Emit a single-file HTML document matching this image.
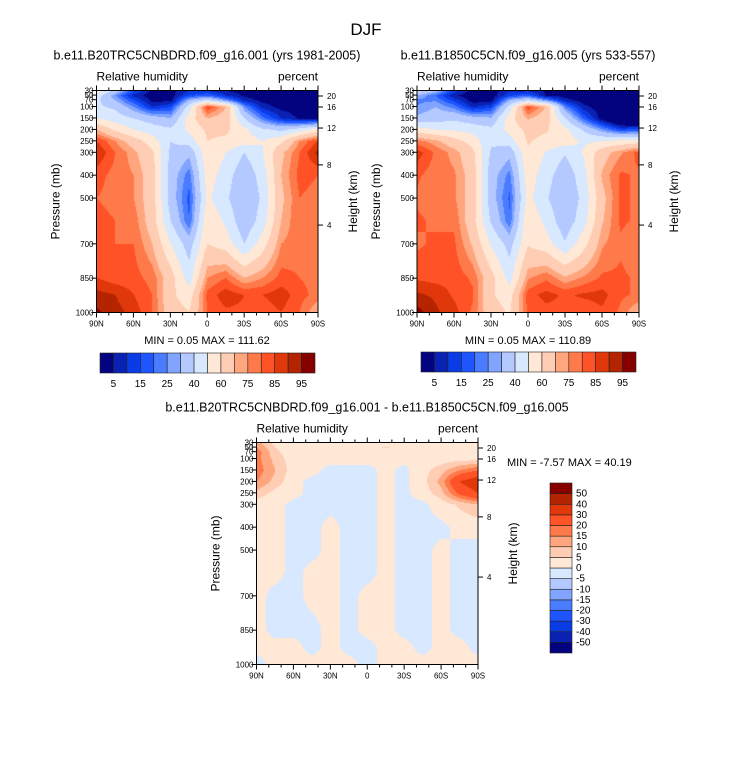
<!DOCTYPE html>
<html><head><meta charset="utf-8">
<style>
html,body{margin:0;padding:0;background:#fff;}
#wrap{position:relative;width:733px;height:758px;overflow:hidden;font-family:"Liberation Sans",sans-serif;}
canvas{position:absolute;}
svg{position:absolute;left:0;top:0;}
</style></head><body>
<div id="wrap">
<canvas id="c1" style="left:97px;top:91px" width="221" height="221"></canvas>
<canvas id="c2" style="left:417px;top:91px" width="222" height="221"></canvas>
<canvas id="c3" style="left:257px;top:443px" width="221" height="221"></canvas>
<svg id="s" width="733" height="758" font-family="Liberation Sans, sans-serif"></svg>
</div>
<script>
const lats = [90,75,60,45,30,15,0,-15,-30,-45,-60,-75,-90];
const pres = [30,50,70,100,150,200,250,300,400,500,600,700,850,925,1000];
const rh1 = [
[55,35,15,3,3,10,10,5,3,2,2,2,2],
[45,25,8,2,2,15,20,10,4,2,2,2,2],
[42,30,15,3,3,30,40,25,8,3,2,2,2],
[42,38,25,10,15,45,85,70,25,8,3,2,2],
[50,45,40,35,30,55,70,65,40,22,10,4,2],
[70,58,50,45,42,52,62,62,52,42,38,45,55],
[85,75,65,55,40,45,60,58,55,50,58,75,85],
[90,80,72,62,38,32,58,50,40,50,68,80,92],
[82,78,75,65,35,22,55,45,32,45,70,82,80],
[80,78,75,65,35,18,52,42,30,42,68,80,78],
[82,80,78,65,40,20,58,48,32,45,70,80,78],
[80,80,80,70,50,35,60,55,40,55,75,78,75],
[85,82,82,78,65,45,75,80,70,75,82,80,78],
[92,90,85,80,62,55,82,88,85,85,88,82,78],
[96,92,88,80,65,60,80,84,84,82,85,80,70]];
const diff = [
[12,3,2,1,1,1,1,1,1,1,1,1,1],
[15,5,2,1,1,1,1,6,1,1,1,1,1],
[18,6,2,1,1,1,1,1,1,1,1,1,1],
[17,8,2,1,1,1,1,1,1,1,2,3,3],
[18,10,2,1,-1,-1,-1,1,-1,3,8,15,20],
[15,8,1,-1,-1,-1,-1,1,-1,3,12,30,38],
[8,3,1,-1,-1,-1,-1,1,-1,2,8,22,30],
[2,1,-1,-1,-1,-1,-1,1,-1,-1,2,6,10],
[1,1,-1,-1,1,-1,-1,1,-1,-1,-1,1,1],
[1,1,-1,-1,1,-1,-1,1,-1,-1,1,-1,-1],
[1,1,-1,1,1,-1,-1,1,-1,-1,1,-1,-1],
[1,-1,-1,1,1,-1,1,1,-1,-1,1,-1,-1],
[1,-1,-1,-1,1,-1,1,1,-1,-1,1,-1,-1],
[1,1,1,-1,1,-1,-1,1,1,-1,1,1,-1],
[-1,1,1,1,1,1,-1,1,1,1,1,1,1]];
const rh2 = rh1.map((r,i)=>r.map((v,j)=>v-diff[i][j]));
const rhLevels = [5,10,15,20,25,30,40,50,60,70,75,80,85,90,95];
const rhLabels = ["5","15","25","40","60","75","85","95"];
const dLevels = [-50,-40,-30,-20,-15,-10,-5,0,5,10,15,20,30,40,50];
const colors = ["#03037f","#0a22b4","#0a3ce6","#1e55ff","#4a7cff","#80a4ff","#b4c9ff","#d8e8ff","#ffe8d6","#ffcdb4","#ffa67e","#ff7a4a","#ff5226","#e0380a","#b52400","#860000"];
const latTicks = ["90N","60N","30N","0","30S","60S","90S"];
const pTicks = [30,50,70,100,150,200,250,300,400,500,700,850,1000];
const hTicks = [[20,54],[16,102],[12,194],[8,355],[4,618]]; // [km, approx pressure]

function sample(grid,lat,p){
  let j=0; while(j<lats.length-2 && lat<lats[j+1]) j++;
  let tx=(lats[j]-lat)/(lats[j]-lats[j+1]);
  let i=0; while(i<pres.length-2 && p>pres[i+1]) i++;
  let ty=(p-pres[i])/(pres[i+1]-pres[i]);
  tx=Math.max(0,Math.min(1,tx)); ty=Math.max(0,Math.min(1,ty));
  const a=grid[i][j],b=grid[i][j+1],c=grid[i+1][j],d=grid[i+1][j+1];
  return (a*(1-tx)+b*tx)*(1-ty)+(c*(1-tx)+d*tx)*ty;
}
function lvl(v,levels){let k=0;while(k<levels.length&&v>=levels[k])k++;return k;}
function drawField(id,grid,levels){
  const cv=document.getElementById(id),ctx=cv.getContext('2d');
  const W=cv.width,H=cv.height;
  for(let y=0;y<H;y++){
    const p=30+(y+0.5)/H*970;
    let x0=0,prev=-1;
    for(let x=0;x<=W;x++){
      let k=-2;
      if(x<W){const lat=90-(x+0.5)/W*180;k=lvl(sample(grid,lat,p),levels);}
      if(k!==prev){ if(prev>=0){ctx.fillStyle=colors[prev];ctx.fillRect(x0,y,x-x0,1);} x0=x;prev=k;}
    }
  }
}
drawField('c1',rh1,rhLevels);
drawField('c2',rh2,rhLevels);
drawField('c3',diff,dLevels);

const S=document.getElementById('s');
const NS='http://www.w3.org/2000/svg';
function el(tag,attrs,parent){const e=document.createElementNS(NS,tag);for(const k in attrs)e.setAttribute(k,attrs[k]);(parent||S).appendChild(e);return e;}
function txt(x,y,s,size,anchor,parent,extra){const t=el('text',Object.assign({x:x,y:y,'font-size':size,'text-anchor':anchor||'start',fill:'#000'},extra||{}),parent);t.textContent=s;return t;}

function panel(name,L,T,W,H,title,minmax,tcx,minX,minY,minAnchor){
  const g=el('g',{});
  
  
  const tt=txt(tcx,T-31,title,12.5,'middle',g);
  
  
  const v=txt(L,T-10,'Relative humidity',12,'start',g);
  
  
  const u=txt(L+W,T-10,'percent',12,'end',g);
  
  
  const fr=el('rect',{x:L,y:T,width:W,height:H,fill:'none',stroke:'#000','stroke-width':1},g);
  
  
  const py=p=>T+(p-30)/970*H;
  pTicks.forEach(p=>{
    const y=py(p);
    el('line',{x1:L-5,y1:y,x2:L,y2:y,stroke:'#000'},g);
    const t=txt(L-3,y+3,String(p),8,'end',g);
    
    
  });
  hTicks.forEach(h=>{
    const y=py(h[1]);
    el('line',{x1:L+W,y1:y,x2:L+W+5,y2:y,stroke:'#000'},g);
    const t=txt(L+W+9,y+3,String(h[0]),8,'start',g);
    
    
  });
  for(let k=0;k<=18;k++){
    const x=L+k/18*W, big=k%3===0;
    el('line',{x1:x,y1:T+H,x2:x,y2:T+H+(big?5:3),stroke:'#000'},g);
    el('line',{x1:x,y1:T,x2:x,y2:T-(big?5:3),stroke:'#000'},g);
  }
  latTicks.forEach((s,k)=>{
    const t=txt(L+k/6*W,T+H+14,s,8,'middle',g);
    
    
  });
  const yl=txt(0,0,'Pressure (mb)',12,'middle',g,{transform:`translate(${L-37},${T+H/2}) rotate(-90)`});
  
  
  const hl=txt(0,0,'Height (km)',12,'middle',g,{transform:`translate(${L+W+39},${T+H/2}) rotate(-90)`});
  
  
  const mm=txt(minX,minY,minmax,11,minAnchor,g);
  
  
}
const dj=txt(366,35,'DJF',17,'middle');


panel('panel-1',96.5,90.5,221.5,222,'b.e11.B20TRC5CNBDRD.f09_g16.001 (yrs 1981-2005)','MIN =   0.05  MAX = 111.62',207,207,344,'middle');
panel('panel-2',417,90.5,222,222,'b.e11.B1850C5CN.f09_g16.005 (yrs 533-557)','MIN =   0.05  MAX = 110.89',528,528,344,'middle');
panel('panel-difference',256.5,442.5,221.5,222,'b.e11.B20TRC5CNBDRD.f09_g16.001 - b.e11.B1850C5CN.f09_g16.005','MIN =  -7.57  MAX =  40.19',367,507,466,'start');

function hbar(name,x0,y0,w,h){
  const g=el('g',{});
  
  
  const bw=w/colors.length;
  colors.forEach((c,k)=>{
    const r=el('rect',{x:x0+k*bw,y:y0,width:bw,height:h,fill:c,stroke:'#222','stroke-width':0.6},g);
    
    
  });
  rhLabels.forEach((s,k)=>{
    const t=txt(x0+(2*k+1)*bw,y0+h+14,s,10,'middle',g);
    
    
  });
}
hbar('colorbar-panel-1',100,353,215,20);
hbar('colorbar-panel-2',421,352,215,20);

(function(){
  const g=el('g',{});
  
  
  const x0=550,y0=483,w=22,h=170,bh=h/colors.length;
  colors.forEach((c,k)=>{
    const r=el('rect',{x:x0,y:y0+(colors.length-1-k)*bh,width:w,height:bh,fill:c,stroke:'#222','stroke-width':0.6},g);
    
    
  });
  dLevels.forEach((v,k)=>{
    const t=txt(x0+w+4,y0+(colors.length-1-k)*bh+3,String(v),10,'start',g);
    
    
  });
})();
</script>
</body></html>
